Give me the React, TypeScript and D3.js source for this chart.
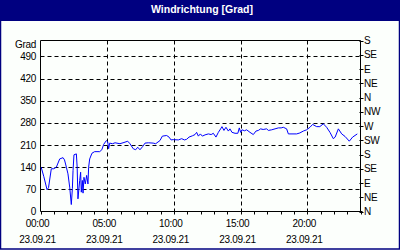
import React from "react";
import * as d3 from "d3";

const title = "Windrichtung [Grad]";
const hours = [0.05,0.25,0.49,0.6,0.81,1.0,1.19,1.44,1.69,1.8,1.94,2.06,2.19,2.31,2.39,2.44,2.51,2.69,2.75,2.81,2.94,3.01,3.06,3.14,3.19,3.26,3.36,3.46,3.56,3.61,3.69,3.86,4.06,4.44,4.6,4.74,4.94,5.04,5.11,5.19,5.4,5.59,5.96,6.34,6.54,6.71,6.96,7.14,7.29,7.46,7.66,7.84,8.09,8.45,8.64,8.96,9.14,9.46,9.64,9.79,9.96,10.34,10.59,10.79,10.96,11.14,11.39,11.59,11.71,11.84,11.99,12.14,12.34,12.59,12.8,12.96,13.16,13.34,13.51,13.61,13.76,13.91,14.09,14.21,14.36,14.59,14.8,14.91,15.01,15.11,15.3,15.46,15.71,15.96,16.16,16.34,16.51,16.7,16.96,17.09,17.34,17.59,17.84,18.05,18.21,18.46,18.59,19.21,19.45,19.71,19.96,20.21,20.41,20.71,20.95,21.21,21.46,21.71,21.96,22.1,22.34,22.59,22.84,23.16,23.41,23.76];
const degrees = [140,110,69,75,135,135,140,166,170,163,140,119,77,22,72,129,179,182,140,40,98,124,61,98,58,108,87,114,87,140,166,184,189,189,195,212,224,220,198,216,214,217,214,219,222,214,198,195,203,195,205,216,217,216,214,224,238,240,235,226,227,226,230,226,228,235,239,243,250,238,245,238,242,245,243,247,235,250,261,268,256,266,254,261,250,247,247,264,250,258,255,258,250,243,254,256,261,259,261,256,258,261,264,264,266,261,245,245,248,254,258,266,275,268,268,277,266,250,230,235,261,245,237,222,235,245];

const leftTicks = [0,70,140,210,280,350,420,490];
const rightTicks = [0,45,90,135,180,225,270,315,360,405,450,495,540];
const rightLabels = ["N","NE","E","SE","S","SW","W","NW","N","NE","E","SE","S"];
const xMajor = [0,5,10,15,20];
const xLabels = ["00:00","05:00","10:00","15:00","20:00"];
const dateLabel = "23.09.21";

const W = 400, H = 250;
const L = 40.5, R = 360.5, T = 40.5, B = 211.5;
const font = "'Liberation Sans', Arial, sans-serif";

export default function App() {
  const x = d3.scaleLinear().domain([0, 24]).range([L, R]);
  const y = d3.scaleLinear().domain([0, 540]).range([B, T]);
  const line = d3.line<number>().x((_, i) => x(hours[i])).y((d) => y(d));
  const path = line(degrees) || "";
  const minor = d3.range(0, 25);
  return (
    <svg width={W} height={H} style={{ position: "absolute", left: 0, top: 0, display: "block" }}>
      <rect x={0} y={0} width={W} height={H} fill="#fcfffc" />
      <rect x={0} y={0} width={W} height={21} fill="#000080" />
      <rect x={0.5} y={0.5} width={W - 1} height={H - 1.5} fill="none" stroke="#000080" strokeWidth={1.5} />
      <text x={202} y={13} fill="#fff" fontFamily={font} fontWeight="bold" fontSize={10.5} textAnchor="middle">{title}</text>

      {leftTicks.filter((t) => t > 0).map((t) => (
        <line key={"h" + t} x1={L} x2={R} y1={Math.round(y(t)) + 0.5} y2={Math.round(y(t)) + 0.5} stroke="#000" strokeDasharray="4,3" strokeWidth={1} />
      ))}
      {xMajor.filter((t) => t > 0).map((t) => (
        <line key={"v" + t} x1={Math.round(x(t)) + 0.5} x2={Math.round(x(t)) + 0.5} y1={T} y2={B} stroke="#000" strokeDasharray="4,3" strokeWidth={1} />
      ))}
      <line x1={L} x2={R} y1={T} y2={T} stroke="#000" />
      <line x1={L} x2={L} y1={T} y2={B} stroke="#000" />
      <line x1={L} x2={R + 2} y1={B} y2={B} stroke="#000" />
      <line x1={R} x2={R} y1={T} y2={B} stroke="#000" />
      {minor.map((t) => (
        <line key={"m" + t} x1={Math.round(x(t)) + 0.5} x2={Math.round(x(t)) + 0.5} y1={B} y2={B + 3} stroke="#000" />
      ))}
      {rightTicks.map((t) => (
        <line key={"r" + t} x1={R - 1} x2={R + 3} y1={Math.round(y(t)) + 0.5} y2={Math.round(y(t)) + 0.5} stroke="#000" />
      ))}

      <path d={path} fill="none" stroke="#0000ff" strokeWidth={1} />

      <g fontFamily={font} fontSize={10} fill="#000" letterSpacing={-0.3}>
        <text x={36} y={T + 7} textAnchor="end">Grad</text>
        {leftTicks.map((t) => (
          <text key={"lt" + t} x={36} y={y(t) + 3.5} textAnchor="end">{t}</text>
        ))}
        {rightTicks.map((t, i) => (
          <text key={"rt" + t} x={364} y={y(t) + 3.5}>{rightLabels[i]}</text>
        ))}
        {xMajor.map((t, i) => (
          <g key={"xl" + t}>
            <text x={x(t) - 3} y={227} textAnchor="middle">{xLabels[i]}</text>
            <text x={x(t) - 3} y={243} textAnchor="middle">{dateLabel}</text>
          </g>
        ))}
      </g>
    </svg>
  );
}
